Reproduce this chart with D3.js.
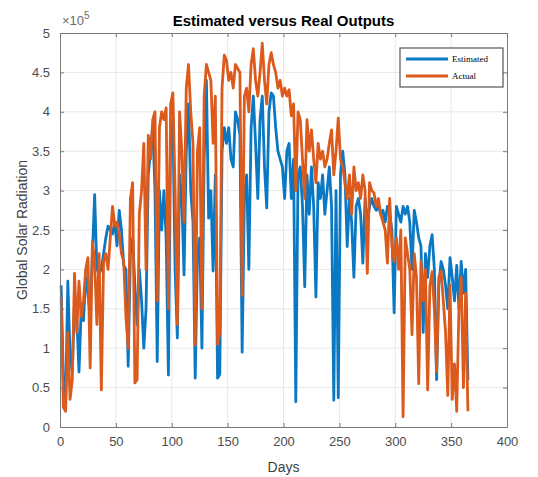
<!DOCTYPE html>
<meta charset="utf-8">
<style>
body { margin: 0; background: #fff; }
text { font-family: "Liberation Sans", Arial, sans-serif; }
</style>
<body>
<script src="https://d3js.org/d3.v7.min.js"></script>
<script>

// days sampled every second day (1, 3, 5, ... 365)
var days = d3.range(1, 366, 2);

// values in units of 10^5
var estimated = [
  1.80, 0.60, 0.30, 1.85, 0.90, 0.70, 1.60, 1.40, 0.70, 1.50,
  1.35, 1.90, 1.70, 1.40, 2.20, 2.95, 2.00, 1.95, 2.00, 2.20,
  2.40, 2.55, 2.50, 2.45, 2.60, 2.30, 2.75, 2.50, 2.05, 2.00,
  0.77, 2.20, 2.40, 1.80, 1.30, 2.00, 1.60, 1.00, 1.50, 3.20,
  3.50, 3.82, 3.00, 0.83, 3.00, 2.50, 3.00, 2.40, 0.66, 3.80,
  3.90, 2.00, 1.13, 3.20, 2.90, 1.93, 3.50, 4.10, 3.00, 2.60,
  0.62, 2.20, 2.40, 1.00, 3.40, 4.40, 2.65, 3.00, 1.98, 3.20,
  0.62, 0.67, 3.50, 3.80, 3.60, 3.80, 3.40, 3.30, 4.00, 3.90,
  3.70, 0.95, 2.90, 3.20, 2.00, 3.80, 4.20, 3.60, 2.90, 3.90,
  4.20, 3.30, 2.78, 4.00, 4.24, 4.20, 3.80, 3.50, 3.40, 3.30,
  2.90, 3.50, 3.60, 2.90, 3.40, 0.32, 3.20, 3.30, 2.80, 1.78,
  3.20, 2.70, 3.30, 2.80, 1.65, 3.10, 2.90, 3.20, 2.70, 3.00,
  3.30, 2.80, 0.34, 3.00, 0.37, 3.20, 3.50, 3.20, 2.29, 2.90,
  2.60, 1.90, 2.80, 2.90, 2.70, 2.08, 2.90, 2.60, 2.80, 2.90,
  2.80, 2.75, 2.80, 2.70, 2.75, 2.60, 2.80, 2.70, 2.50, 1.45,
  2.80, 2.70, 2.60, 2.80, 2.70, 2.80, 2.60, 2.00, 2.75, 2.60,
  2.40, 2.30, 1.20, 2.20, 1.90, 2.30, 2.44, 2.00, 0.60, 1.80,
  2.10, 2.00, 1.80, 1.50, 2.15, 1.90, 1.60, 2.05, 1.50, 2.10,
  1.70, 2.00, 0.60
];

var actual = [
  1.65, 0.25, 0.20, 1.20, 0.35, 0.60, 1.95, 1.20, 1.85, 1.40,
  1.60, 2.00, 2.15, 0.75, 2.35, 2.10, 1.30, 2.20, 0.47, 2.10,
  2.20, 2.00, 2.40, 2.80, 2.55, 2.60, 2.45, 2.20, 2.10, 1.40,
  1.00, 2.90, 3.10, 0.56, 0.60, 2.70, 3.00, 3.60, 2.00, 3.70,
  3.40, 3.90, 4.00, 1.60, 3.80, 4.00, 3.90, 4.05, 1.50, 4.10,
  4.24, 3.00, 1.30, 4.00, 3.50, 2.60, 4.30, 4.60, 4.00, 3.60,
  1.04, 3.50, 3.80, 1.50, 4.20, 4.60, 4.50, 4.40, 3.60, 4.20,
  1.05, 1.20, 4.30, 4.72, 4.65, 4.40, 4.50, 4.30, 4.60, 4.55,
  4.50, 1.67, 4.20, 4.30, 4.00, 4.60, 4.80, 4.40, 4.20, 4.50,
  4.87, 4.40, 4.10, 4.60, 4.75, 4.60, 4.50, 4.30, 4.40, 4.20,
  4.30, 4.20, 4.28, 3.95, 4.10, 3.00, 4.00, 3.90, 3.40, 2.90,
  3.90, 3.50, 3.77, 3.40, 3.10, 3.60, 3.40, 3.50, 3.30, 3.40,
  3.60, 3.77, 3.20, 3.50, 3.92, 3.40, 3.30, 3.10, 2.90, 3.20,
  2.70, 3.30, 3.00, 3.10, 2.90, 3.20, 3.00, 1.95, 3.10, 3.00,
  2.97, 2.80, 2.90, 2.70, 2.60, 2.50, 2.08, 2.90, 2.30, 2.10,
  2.40, 2.00, 2.50, 0.13, 2.40, 2.20, 2.00, 1.17, 2.20, 1.90,
  0.55, 2.10, 1.60, 2.00, 0.47, 1.80, 1.97, 1.50, 0.70, 1.90,
  1.98, 1.60, 1.20, 0.40, 1.80, 0.35, 0.80, 0.20, 1.50, 1.90,
  0.50, 1.70, 0.20
];

var xTicks = [0, 50, 100, 150, 200, 250, 300, 350, 400];
var yTicks = [0, 0.5, 1, 1.5, 2, 2.5, 3, 3.5, 4, 4.5, 5];
var seriesNames = ["Estimated", "Actual"];
var seriesColors = ["#0a78c2", "#db5a1c"];

var width = 538, height = 477;
var margin = {left: 60, right: 31, top: 33, bottom: 50};

var svg = d3.select("body").append("svg")
  .attr("width", width).attr("height", height);

var x = d3.scaleLinear().domain([0, 400]).range([margin.left, width - margin.right]);
var y = d3.scaleLinear().domain([0, 5]).range([height - margin.bottom, margin.top]);

// grid
svg.append("g").selectAll("line").data(xTicks.slice(1, -1)).join("line")
  .attr("x1", d => x(d)).attr("x2", d => x(d))
  .attr("y1", y(0)).attr("y2", y(5))
  .attr("stroke", "#e8e8e8").attr("stroke-width", 1);
svg.append("g").selectAll("line").data(yTicks.slice(1, -1)).join("line")
  .attr("x1", x(0)).attr("x2", x(400))
  .attr("y1", d => y(d)).attr("y2", d => y(d))
  .attr("stroke", "#e8e8e8").attr("stroke-width", 1);

// series, estimated drawn first so actual lies on top
var series = [estimated, actual];
var line = d3.line()
  .x((d, i) => x(days[i]))
  .y(d => y(d));

series.forEach(function(vals, k) {
  svg.append("path")
    .datum(vals)
    .attr("fill", "none")
    .attr("stroke", seriesColors[k])
    .attr("stroke-width", 2.8)
    .attr("stroke-linejoin", "round")
    .attr("d", line);
});

// axes (ticks inward, on all four sides)
var tickLen = -4;
var fmt = d3.format("~g");
svg.append("g").attr("class", "axis")
  .attr("transform", "translate(0," + y(0) + ")")
  .call(d3.axisBottom(x).tickValues(xTicks).tickSizeInner(tickLen).tickSizeOuter(0).tickPadding(10));
svg.append("g").attr("class", "axis")
  .attr("transform", "translate(" + x(0) + ",0)")
  .call(d3.axisLeft(y).tickValues(yTicks).tickFormat(fmt).tickSizeInner(tickLen).tickSizeOuter(0).tickPadding(10));
svg.append("g").attr("class", "axis")
  .attr("transform", "translate(0," + y(5) + ")")
  .call(d3.axisTop(x).tickValues(xTicks).tickSizeInner(tickLen).tickSizeOuter(0).tickFormat(""));
svg.append("g").attr("class", "axis")
  .attr("transform", "translate(" + x(400) + ",0)")
  .call(d3.axisRight(y).tickValues(yTicks).tickSizeInner(tickLen).tickSizeOuter(0).tickFormat(""));

svg.selectAll(".axis path").attr("stroke", "#7a7a7a");
svg.selectAll(".axis line").attr("stroke", "#7a7a7a");
svg.selectAll(".axis text")
  .attr("fill", "#4d4d4d")
  .style("font-family", "'Liberation Sans', Arial, sans-serif")
  .style("font-size", "13px");

// exponent
var expo = svg.append("text")
  .attr("x", x(0) + 2).attr("y", 25)
  .attr("fill", "#6a6a6a")
  .style("font-size", "13px");
expo.append("tspan").text("\u00d710");
expo.append("tspan").attr("dy", -6).style("font-size", "10px").text("5");

// title
svg.append("text")
  .attr("x", (x(0) + x(400)) / 2).attr("y", 26)
  .attr("text-anchor", "middle")
  .attr("fill", "#000")
  .style("font-size", "15px")
  .style("font-weight", "bold")
  .text("Estimated versus Real Outputs");

// axis labels
svg.append("text")
  .attr("x", (x(0) + x(400)) / 2).attr("y", 472)
  .attr("text-anchor", "middle")
  .attr("fill", "#404040")
  .style("font-size", "14px")
  .text("Days");

svg.append("text")
  .attr("transform", "translate(27," + ((y(0) + y(5)) / 2) + ") rotate(-90)")
  .attr("text-anchor", "middle")
  .attr("fill", "#404040")
  .style("font-size", "14px")
  .text("Global Solar Radiation");

// legend
var legend = svg.append("g").attr("transform", "translate(400,48)");
legend.append("rect")
  .attr("width", 103).attr("height", 39)
  .attr("fill", "#fff").attr("stroke", "#555").attr("stroke-width", 1.2);
seriesNames.forEach(function(name, k) {
  var ly = 11 + k * 17;
  legend.append("line")
    .attr("x1", 6).attr("x2", 48).attr("y1", ly).attr("y2", ly)
    .attr("stroke", seriesColors[k]).attr("stroke-width", 3);
  legend.append("text")
    .attr("x", 52).attr("y", ly + 3)
    .attr("fill", "#000")
    .style("font-family", "'Liberation Serif', 'Times New Roman', serif")
    .style("font-size", "9px")
    .text(name);
});

</script>
</body>
